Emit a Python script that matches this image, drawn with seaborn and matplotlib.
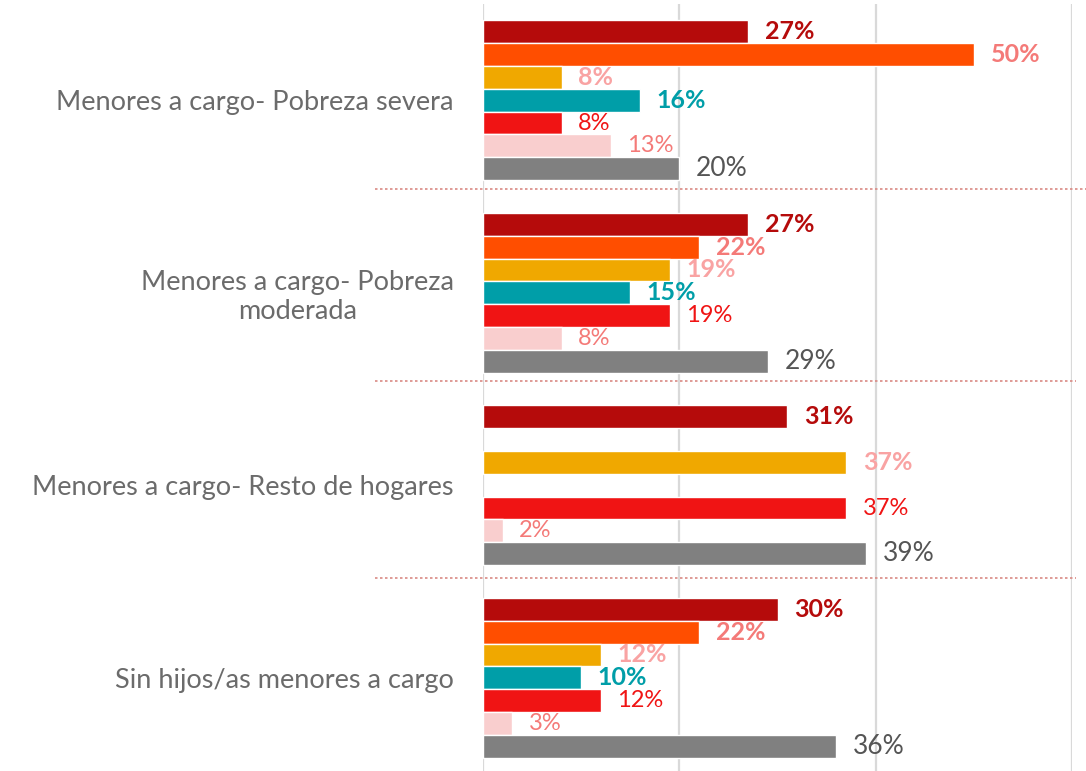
import matplotlib
matplotlib.use("Agg")
import matplotlib.pyplot as plt
import seaborn as sns
import pandas as pd
import numpy as np

# data (percent)
categories = ["Menores a cargo- Pobreza severa",
              "Menores a cargo- Pobreza\nmoderada",
              "Menores a cargo- Resto de hogares",
              "Sin hijos/as menores a cargo"]
series = ["Serie 1", "Serie 2", "Serie 3", "Serie 4", "Serie 5", "Serie 6", "Total"]
serie_1 = [27, 27, 31, 30]
serie_2 = [50, 22, np.nan, 22]
serie_3 = [8, 19, 37, 12]
serie_4 = [16, 15, np.nan, 10]
serie_5 = [8, 19, 37, 12]
serie_6 = [13, 8, 2, 3]
total = [20, 29, 39, 36]

bar_colors = ["#B50B0B", "#FF4E00", "#F0A800", "#009EA8", "#F01414", "#F9CECE", "#808080"]
label_colors = ["#B50B0B", "#F47A78", "#F9A3A3", "#009EA8", "#F01414", "#F47A78", "#555555"]
label_weights = ["bold", "bold", "bold", "bold", "normal", "normal", "normal"]
label_sizes = [18, 18, 18, 18, 17, 17, 19]

values = [serie_1, serie_2, serie_3, serie_4, serie_5, serie_6, total]
rows = []
for name, vals in zip(series, values):
    for cat, v in zip(categories, vals):
        rows.append({"categoria": cat, "serie": name, "valor": v})
df = pd.DataFrame(rows)

sns.set_style("white")
plt.rcParams["font.family"] = ["Lato", "DejaVu Sans"]

fig = plt.figure(figsize=(10.86, 7.71), dpi=100)
ax = fig.add_axes([483 / 1086, -3 / 771, 589 / 1086, 770 / 771])

sns.barplot(data=df, y="categoria", x="valor", hue="serie", order=categories,
            hue_order=series, palette=bar_colors, orient="h", width=0.83,
            saturation=1, legend=False, ax=ax)

# value labels, one style per series
for cont, col, wt, sz in zip(ax.containers, label_colors, label_weights, label_sizes):
    labels = ["" if np.isnan(v) else f"{v:.0f}%" for v in cont.datavalues]
    ax.bar_label(cont, labels=labels, padding=12, color=col, fontweight=wt,
                 fontsize=sz)

ax.set_xlim(0, 60)
ax.set_ylim(3.5, -0.5)
ax.set_xticks([0, 20, 40, 60])
ax.set_xticklabels([])
ax.xaxis.grid(True, color="#D9D9D9", linewidth=1.6)
ax.set_axisbelow(True)
ax.tick_params(axis="both", length=0)
ax.tick_params(axis="y", pad=21)
for lab in ax.get_yticklabels():
    lab.set_fontsize(19.5)
    lab.set_color("#6B6B6B")
    lab.set_multialignment("center")
ax.set_xlabel("")
ax.set_ylabel("")
sns.despine(ax=ax, left=True, bottom=True)

# dotted separators between groups
for y, xmax in [(0.46, 1.03), (1.46, 1.007), (2.48, 1.007)]:
    ax.axhline(y, xmin=-0.183, xmax=xmax, color="#D98A84", linewidth=1.2,
               linestyle=(0, (1.5, 1.5)), clip_on=False)

fig.savefig("out.png", dpi=100)
